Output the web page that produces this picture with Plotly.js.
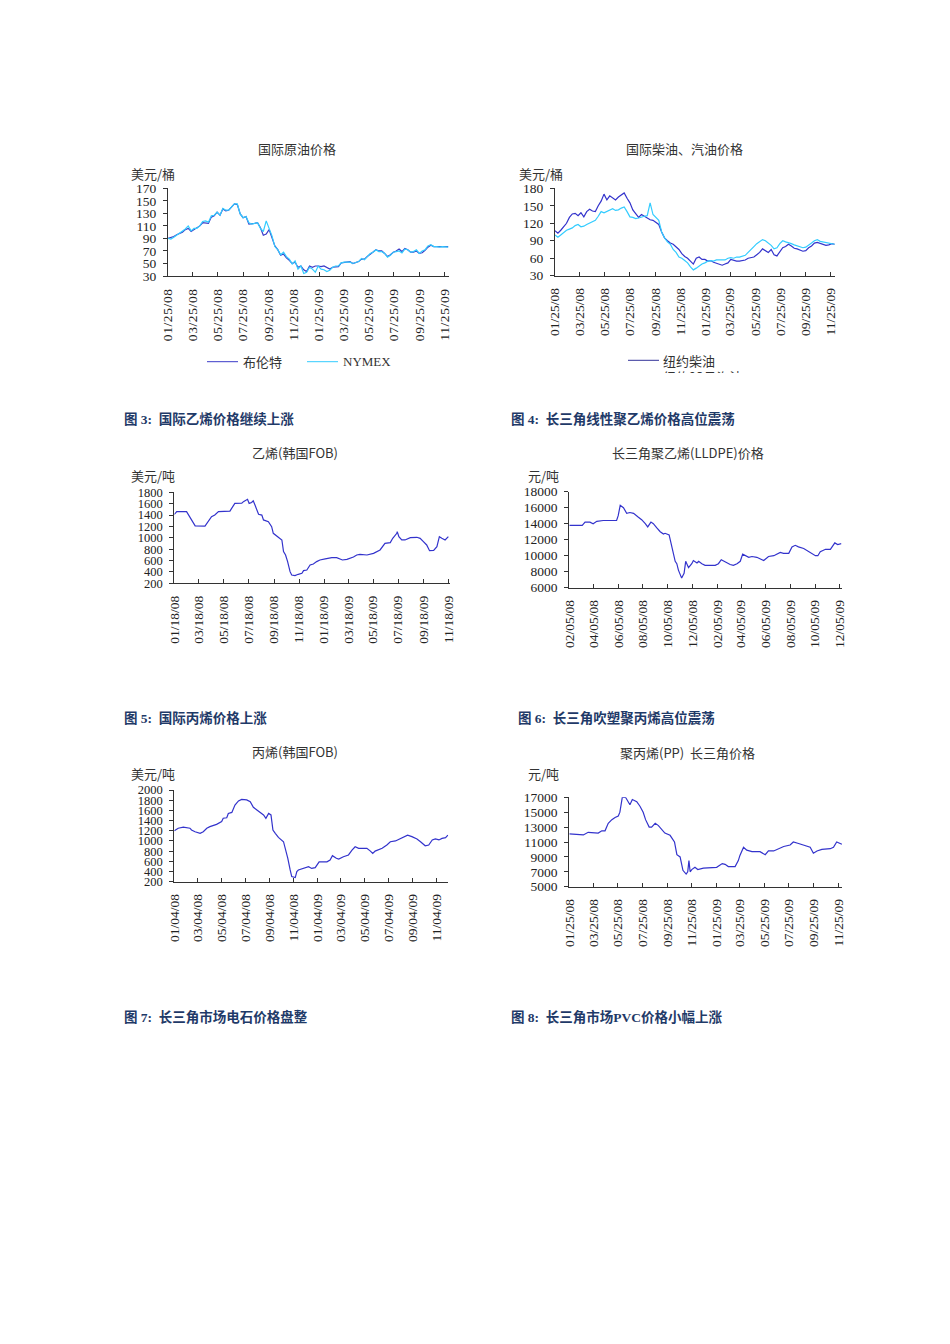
<!DOCTYPE html>
<html><head><meta charset="utf-8">
<script src="https://cdn.plot.ly/plotly-3.0.1.min.js"></script>
<style>
html,body{margin:0;padding:0;background:#fff}
#chart{position:absolute;left:0;top:0;width:950px;height:1344px}
#clip{position:absolute;left:600px;top:373px;width:170px;height:14px;background:#fff}
.xtick text{letter-spacing:0.6px}
</style>
</head><body><div id="chart"></div><div id="clip"></div>
<script>
// ---------- DATA ----------
const weeks = ['2008-01-25','2008-02-01','2008-02-08','2008-02-15','2008-02-22','2008-02-29','2008-03-07','2008-03-14','2008-03-21','2008-03-28','2008-04-04','2008-04-11','2008-04-18','2008-04-25','2008-05-02','2008-05-09','2008-05-16','2008-05-23','2008-05-30','2008-06-06','2008-06-13','2008-06-20','2008-06-27','2008-07-04','2008-07-11','2008-07-18','2008-07-25','2008-08-01','2008-08-08','2008-08-15','2008-08-22','2008-08-29','2008-09-05','2008-09-12','2008-09-19','2008-09-26','2008-10-03','2008-10-10','2008-10-17','2008-10-24','2008-10-31','2008-11-07','2008-11-14','2008-11-21','2008-11-28','2008-12-05','2008-12-12','2008-12-19','2008-12-26',
'2009-01-02','2009-01-09','2009-01-16','2009-01-23','2009-01-30','2009-02-06','2009-02-13','2009-02-20','2009-02-27','2009-03-06','2009-03-13','2009-03-20','2009-03-27','2009-04-03','2009-04-10','2009-04-17','2009-04-24','2009-05-01','2009-05-08','2009-05-15','2009-05-22','2009-05-29','2009-06-05','2009-06-12','2009-06-19','2009-06-26','2009-07-03','2009-07-10','2009-07-17','2009-07-24','2009-07-31','2009-08-07','2009-08-14','2009-08-21','2009-08-28','2009-09-04','2009-09-11','2009-09-18','2009-09-25','2009-10-02','2009-10-09','2009-10-16','2009-10-23','2009-10-30','2009-11-06','2009-11-13','2009-11-20','2009-11-27','2009-12-04'];

const brent = [90,91,93,96,98,100,104,106,101,104,106,110,115,114,114,124,126,132,127,137,134,135,140,145,144,129,123,125,113,113,114,115,107,95,97,104,92,78,72,63,65,59,55,50,52,44,46,40,37,
46,44,46,46,45,46,44,41,44,45,45,51,52,52,53,50,51,53,57,57,61,65,68,72,70,70,66,61,64,68,70,73,69,74,72,68,68,70,66,67,71,76,79,77,77,77,78,77,77];
const nymex = [90,89,92,95,98,102,105,110,102,106,106,110,117,118,116,126,127,132,127,138,135,135,140,145,145,129,123,125,115,113,114,115,106,101,118,106,94,77,72,64,68,61,57,49,54,41,46,34,36,
44,41,36,46,41,40,37,39,44,46,46,51,52,52,52,50,51,53,58,56,61,66,68,72,69,69,66,60,63,68,69,70,67,73,72,68,69,72,66,70,72,78,80,77,77,76,77,76,76];

const diesel = [107,103,108,115,120,130,136,137,133,138,131,140,144,141,140,150,158,170,160,167,163,160,165,168,172,163,155,143,137,130,135,132,128,126,125,122,118,105,95,90,86,84,80,75,68,63,60,55,50,
60,62,58,58,55,56,53,51,50,48,50,52,58,56,55,55,56,57,60,61,62,66,70,76,73,70,75,66,64,72,78,80,84,81,77,76,74,72,73,78,81,86,87,85,84,82,83,85,84];
const gasoline = [100,96,100,104,108,110,112,116,118,114,115,118,120,122,125,132,140,138,140,143,145,142,143,146,148,140,131,130,128,129,131,132,133,155,135,130,125,105,95,88,84,75,70,62,60,56,52,45,40,
43,47,50,52,55,56,55,57,57,58,57,60,61,60,62,62,63,65,70,76,80,85,88,92,90,86,82,76,78,85,90,88,87,85,83,81,80,78,79,82,86,90,92,89,88,86,85,85,84];

const ethDates = ['2008-01-18','2008-01-24','2008-02-17','2008-03-09','2008-04-02','2008-04-18','2008-04-26','2008-05-05','2008-06-02','2008-06-06','2008-06-14','2008-07-01','2008-07-05','2008-07-15','2008-07-19','2008-07-25','2008-07-29','2008-08-02','2008-08-11','2008-08-19','2008-08-23','2008-09-04','2008-09-12','2008-09-16','2008-09-28','2008-10-07','2008-10-11','2008-10-16','2008-10-21','2008-10-27','2008-10-31','2008-11-08','2008-11-16','2008-11-25','2008-11-29','2008-12-07','2008-12-15','2008-12-23','2008-12-31','2009-01-08','2009-01-21','2009-02-06','2009-02-18','2009-02-26','2009-03-04','2009-03-15','2009-03-31','2009-04-08','2009-04-16','2009-05-03','2009-05-19','2009-06-04','2009-06-16','2009-06-29','2009-07-05','2009-07-15','2009-07-16','2009-07-20','2009-07-27','2009-08-04','2009-08-17','2009-09-02','2009-09-10','2009-09-18','2009-09-26','2009-10-03','2009-10-13','2009-10-21','2009-10-27','2009-11-02','2009-11-10','2009-11-18'];
const ethVals = [1410,1460,1460,1210,1205,1370,1400,1460,1470,1520,1605,1610,1636,1677,1605,1620,1650,1580,1413,1400,1314,1284,1196,1079,1020,962,757,698,581,405,346,335,358,376,423,434,522,540,581,610,628,651,651,628,610,622,663,698,710,698,727,786,903,915,991,1079,1108,1020,962,962,1003,1009,991,932,874,774,780,844,1020,991,962,1020];

const peDates = ['2008-02-05','2008-03-08','2008-03-15','2008-03-27','2008-04-04','2008-04-13','2008-04-29','2008-06-01','2008-06-05','2008-06-10','2008-06-18','2008-06-26','2008-07-04','2008-07-13','2008-07-25','2008-08-02','2008-08-11','2008-08-17','2008-08-25','2008-08-31','2008-09-08','2008-09-17','2008-09-25','2008-09-29','2008-10-09','2008-10-16','2008-10-24','2008-10-28','2008-11-01','2008-11-09','2008-11-15','2008-11-19','2008-11-26','2008-12-04','2008-12-08','2008-12-17','2008-12-21','2008-12-29','2009-01-06','2009-01-31','2009-02-08','2009-02-15','2009-02-25','2009-03-09','2009-03-17','2009-03-26','2009-04-03','2009-04-09','2009-04-24','2009-05-02','2009-05-14','2009-05-22','2009-05-31','2009-06-12','2009-06-25','2009-07-11','2009-07-19','2009-08-01','2009-08-09','2009-08-17','2009-08-25','2009-09-07','2009-09-19','2009-10-06','2009-10-12','2009-10-18','2009-10-31','2009-11-12','2009-11-23','2009-11-30','2009-12-09'];
const peVals = [13800,13800,14200,14200,14000,14300,14400,14400,15000,16300,16000,15300,15400,15300,14800,14500,14000,13600,14200,14000,13500,13000,12700,12800,12600,11000,9300,9000,8200,7200,7800,9300,8500,9000,9400,9100,9300,9000,8800,8800,9000,9500,9200,8900,8800,9000,9300,10200,9800,9900,9800,9600,9400,9900,10000,10400,10300,10300,11100,11300,11100,10900,10500,10000,10000,10500,10800,10800,11600,11400,11500];

const prDates = ['2008-01-04','2008-01-14','2008-01-27','2008-02-13','2008-02-17','2008-02-26','2008-03-10','2008-03-18','2008-03-27','2008-04-04','2008-04-21','2008-05-04','2008-05-08','2008-05-17','2008-05-21','2008-05-30','2008-06-07','2008-06-16','2008-06-24','2008-07-07','2008-07-16','2008-07-24','2008-08-02','2008-08-10','2008-08-19','2008-08-25','2008-09-01','2008-09-07','2008-09-12','2008-09-18','2008-09-26','2008-10-09','2008-10-15','2008-10-20','2008-10-26','2008-10-30','2008-11-08','2008-11-12','2008-11-16','2008-11-29','2008-12-12','2008-12-20','2008-12-29','2009-01-08','2009-01-28','2009-02-05','2009-02-11','2009-02-21','2009-02-27','2009-03-11','2009-03-24','2009-04-02','2009-04-10','2009-04-19','2009-05-10','2009-05-19','2009-05-25','2009-05-31','2009-06-18','2009-06-30','2009-07-09','2009-07-22','2009-08-03','2009-08-16','2009-08-22','2009-09-02','2009-09-15','2009-09-24','2009-10-06','2009-10-15','2009-10-24','2009-11-01','2009-11-10','2009-11-18','2009-11-27','2009-12-03'];
const prVals = [1200,1250,1270,1250,1215,1180,1150,1180,1250,1280,1325,1380,1445,1455,1540,1560,1705,1785,1815,1805,1770,1660,1607,1560,1510,1445,1540,1510,1215,1150,1070,985,820,660,430,300,280,400,430,460,495,460,475,590,590,625,710,660,645,690,725,820,885,855,855,800,755,800,855,920,985,1000,1050,1100,1115,1085,1040,985,905,920,1020,1040,1020,1050,1065,1115];

const ppDates = ['2008-01-25','2008-02-12','2008-02-29','2008-03-12','2008-03-29','2008-04-06','2008-04-15','2008-04-23','2008-05-01','2008-05-10','2008-05-18','2008-05-26','2008-05-30','2008-06-05','2008-06-13','2008-06-24','2008-06-30','2008-07-11','2008-07-19','2008-07-27','2008-08-02','2008-08-11','2008-08-17','2008-08-26','2008-09-03','2008-09-13','2008-09-19','2008-10-02','2008-10-13','2008-10-19','2008-10-27','2008-11-03','2008-11-07','2008-11-11','2008-11-15','2008-11-18','2008-11-21','2008-11-25','2008-12-03','2008-12-10','2008-12-24','2009-01-14','2009-01-26','2009-02-09','2009-02-16','2009-02-24','2009-03-13','2009-03-21','2009-03-25','2009-04-03','2009-04-11','2009-04-24','2009-05-14','2009-05-27','2009-06-04','2009-06-17','2009-06-25','2009-07-12','2009-07-28','2009-08-05','2009-08-18','2009-09-04','2009-09-16','2009-09-24','2009-10-03','2009-10-15','2009-11-05','2009-11-13','2009-11-21','2009-12-04'];
const ppVals = [12100,12000,11950,12300,12300,12200,12500,12500,13500,14000,14300,14500,15000,17000,17000,16000,16700,16400,15800,15000,14000,13000,13000,13500,13200,12500,12200,11900,11000,9300,9000,7200,7000,6700,7000,8500,7000,7300,7600,7300,7500,7500,7600,8100,8000,7700,7700,8500,9200,10300,9900,9700,9700,9300,9800,9800,10000,10400,10600,11000,10800,10500,10300,9500,9800,10000,10100,10300,11000,10700];

const ticks25 = ['2008-01-25','2008-03-25','2008-05-25','2008-07-25','2008-09-25','2008-11-25','2009-01-25','2009-03-25','2009-05-25','2009-07-25','2009-09-25','2009-11-25'];
const ticks18 = ['2008-01-18','2008-03-18','2008-05-18','2008-07-18','2008-09-18','2008-11-18','2009-01-18','2009-03-18','2009-05-18','2009-07-18','2009-09-18','2009-11-18'];
const ticks05 = ['2008-02-05','2008-04-05','2008-06-05','2008-08-05','2008-10-05','2008-12-05','2009-02-05','2009-04-05','2009-06-05','2009-08-05','2009-10-05','2009-12-05'];
const ticks04 = ['2008-01-04','2008-03-04','2008-05-04','2008-07-04','2008-09-04','2008-11-04','2009-01-04','2009-03-04','2009-05-04','2009-07-04','2009-09-04','2009-11-04'];

const titles = ['国际原油价格','国际柴油、汽油价格','乙烯(韩国FOB)','长三角聚乙烯(LLDPE)价格','丙烯(韩国FOB)','聚丙烯(PP)  长三角价格'];
const units = ['美元/桶','美元/桶','美元/吨','元/吨','美元/吨','元/吨'];
const captions = ['图 3:  国际乙烯价格继续上涨','图 4:  长三角线性聚乙烯价格高位震荡','图 5:  国际丙烯价格上涨','图 6:  长三角吹塑聚丙烯高位震荡','图 7:  长三角市场电石价格盘整','图 8:  长三角市场PVC价格小幅上涨'];
const legendNames = ['布伦特','NYMEX','纽约柴油','纽约93号汽油'];

// ---------- LAYOUT HELPERS ----------
const W = 950, H = 1344;
const px = x => x / W, py = y => 1 - y / H;
const numFamily = 'Liberation Serif, Times New Roman, serif';
const cjk = 'Noto Sans CJK SC, sans-serif';

function xa(l, r, range, tickvals, anchor){
  return {domain:[px(l), px(r)], anchor, type:'date', range, tickmode:'array', tickvals,
    tickformat:'%m/%d/%y', tickangle:-90, ticks:'inside', ticklen:4, tickcolor:'#333',
    ticklabelstandoff:6,
    showline:true, linecolor:'#333', linewidth:1, showgrid:false, zeroline:false,
    tickfont:{family:numFamily, size:13.5, color:'#222'}, fixedrange:true};
}
function ya(b, t, range, dtick, anchor, fs){
  return {domain:[py(b), py(t)], anchor, range, tickmode:'linear', tick0:range[0], dtick,
    tickformat:'d', exponentformat:'none', separatethousands:false,
    ticks:'outside', ticklen:4, tickcolor:'#333', ticklabelstandoff:4,
    showline:true, linecolor:'#333', linewidth:1,
    showgrid:false, zeroline:false, tickfont:{family:numFamily, size:fs||13.5, color:'#222'}, fixedrange:true};
}
function ann(text, x, y, o){
  return Object.assign({text, x:px(x), y:py(y), xref:'paper', yref:'paper', showarrow:false,
    xanchor:'left', yanchor:'middle', font:{family:cjk, size:13, color:'#333'}}, o||{});
}

const blue = '#3333cc';
const traces = [
  {x:weeks, y:brent, xaxis:'x', yaxis:'y', mode:'lines', line:{color:'#3a3ac8', width:1.2}, name:legendNames[0]},
  {x:weeks, y:nymex, xaxis:'x', yaxis:'y', mode:'lines', line:{color:'#33ccff', width:1.2}, name:legendNames[1]},
  {x:weeks, y:diesel, xaxis:'x2', yaxis:'y2', mode:'lines', line:{color:'#3333cc', width:1.2}, name:legendNames[2]},
  {x:weeks, y:gasoline, xaxis:'x2', yaxis:'y2', mode:'lines', line:{color:'#33ccff', width:1.2}, name:legendNames[3]},
  {x:ethDates, y:ethVals, xaxis:'x3', yaxis:'y3', mode:'lines', line:{color:blue, width:1.2}},
  {x:peDates, y:peVals, xaxis:'x4', yaxis:'y4', mode:'lines', line:{color:blue, width:1.2}},
  {x:prDates, y:prVals, xaxis:'x5', yaxis:'y5', mode:'lines', line:{color:blue, width:1.2}},
  {x:ppDates, y:ppVals, xaxis:'x6', yaxis:'y6', mode:'lines', line:{color:blue, width:1.2}}
];

const capFont = {family:'Liberation Serif, Noto Sans CJK SC, serif', size:13.5, color:'#1f3a68', weight:'bold'};

const layout = {
  width:W, height:H, margin:{l:0, r:0, t:0, b:0}, paper_bgcolor:'#fff', plot_bgcolor:'rgba(0,0,0,0)',
  showlegend:false,
  xaxis:  xa(168, 449, ['2008-01-25','2009-12-06'], ticks25, 'y'),
  yaxis:  ya(276, 188.3, [30,170], 20, 'x'),
  xaxis2: xa(555, 835, ['2008-01-25','2009-12-05'], ticks25, 'y2'),
  yaxis2: ya(275.7, 188.3, [30,180], 30, 'x2'),
  xaxis3: xa(174.3, 450, ['2008-01-18','2009-11-22'], ticks18, 'y3'),
  yaxis3: ya(583.3, 492.3, [200,1800], 200, 'x3', 12.5),
  xaxis4: xa(569.3, 841.7, ['2008-02-05','2009-12-10'], ticks05, 'y4'),
  yaxis4: ya(587.7, 491.7, [6000,18000], 2000, 'x4'),
  xaxis5: xa(174.3, 448.3, ['2008-01-04','2009-12-04'], ticks04, 'y5'),
  yaxis5: ya(881.7, 790, [200,2000], 200, 'x5', 12.5),
  xaxis6: xa(569.3, 842.3, ['2008-01-25','2009-12-05'], ticks25, 'y6'),
  yaxis6: ya(886.7, 797.3, [5000,17000], 2000, 'x6'),
  shapes: [
    {type:'line', xref:'paper', yref:'paper', x0:px(207), x1:px(238), y0:py(361.7), y1:py(361.7), line:{color:'#3a3ac8', width:1}},
    {type:'line', xref:'paper', yref:'paper', x0:px(307), x1:px(338), y0:py(361.7), y1:py(361.7), line:{color:'#33ccff', width:1}},
    {type:'line', xref:'paper', yref:'paper', x0:px(628), x1:px(659), y0:py(360.3), y1:py(360.3), line:{color:'#333399', width:1}}
  ],
  annotations: [
    ann(titles[0], 296.7, 148.5, {xanchor:'center'}),
    ann(titles[1], 684, 148.5, {xanchor:'center'}),
    ann(titles[2], 295, 452, {xanchor:'center'}),
    ann(titles[3], 687.7, 453, {xanchor:'center'}),
    ann(titles[4], 295, 751.7, {xanchor:'center'}),
    ann(titles[5], 687.7, 752, {xanchor:'center'}),
    ann(units[0], 129, 173),
    ann(units[1], 517, 173.3),
    ann(units[2], 129, 475.7),
    ann(units[3], 526, 475),
    ann(units[4], 129, 773),
    ann(units[5], 526, 773),
    ann(legendNames[0], 241, 361.7),
    ann(legendNames[1], 341, 361.7, {font:{family:'Liberation Serif, serif', size:13, color:'#333'}}),
    ann(legendNames[2], 661, 360.3),
    ann(legendNames[3], 661, 377),
    ann(captions[0], 122, 419, {font:capFont}),
    ann(captions[1], 509, 419, {font:capFont}),
    ann(captions[2], 122, 717.5, {font:capFont}),
    ann(captions[3], 516, 717.5, {font:capFont}),
    ann(captions[4], 122, 1016.5, {font:capFont}),
    ann(captions[5], 509, 1016.5, {font:capFont})
  ]
};

Plotly.newPlot('chart', traces, layout, {staticPlot:true, displayModeBar:false});
</script>
</body></html>
